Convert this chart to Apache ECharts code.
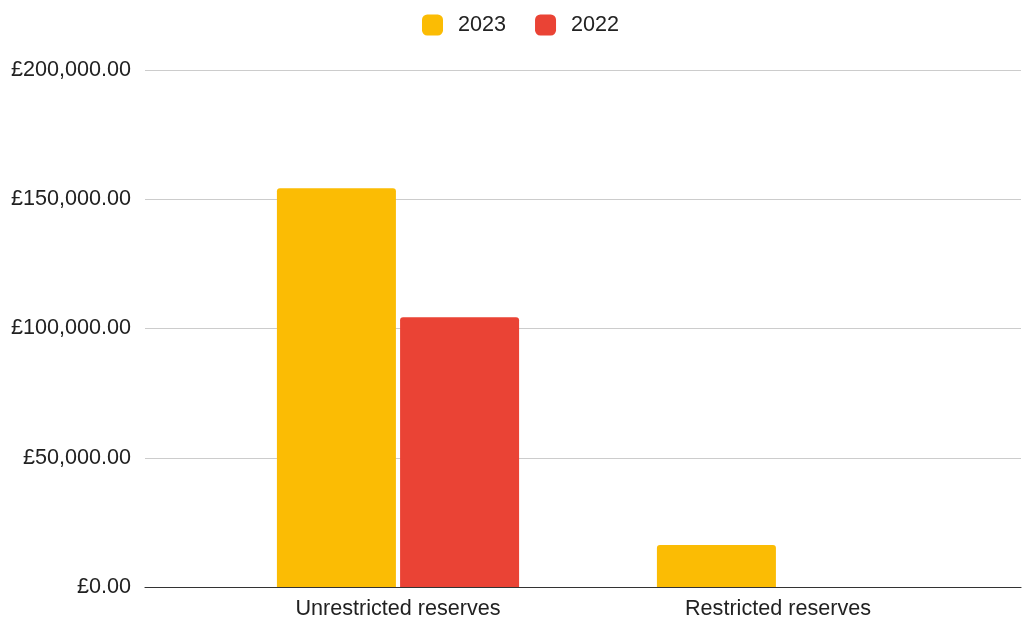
<!DOCTYPE html>
<html>
<head>
<meta charset="utf-8">
<script src="https://cdn.jsdelivr.net/npm/echarts@6/dist/echarts.min.js"></script>
<style>html,body{margin:0;padding:0;background:#fff}#c{width:1023px;height:622px}</style>
</head>
<body>
<div id="c"></div>
<script>
const categories = ['Unrestricted reserves', 'Restricted reserves'];
const seriesNames = ['2023', '2022'];
const values2023 = [154250, 16200];
const values2022 = [104400, 0];
const yTicks = [0, 50000, 100000, 150000, 200000];

function fmt(v) {
  const s = Math.round(v).toString().replace(/\B(?=(\d{3})+(?!\d))/g, ',');
  return '£' + s + '.00';
}

const FONT = 'Liberation Sans, Arial, sans-serif';
const FS = 21.6;
const chart = echarts.init(document.getElementById('c'), null, {renderer: 'canvas'});
chart.setOption({
  animation: false,
  backgroundColor: '#fff',
  textStyle: {fontFamily: FONT},
  legend: {
    top: 9, left: 417,
    itemWidth: 21, itemHeight: 21, itemGap: 29,
    icon: 'roundRect',
    textStyle: {fontSize: FS, color: '#222', fontFamily: FONT, padding: [0, 0, 0, 10]},
    data: seriesNames
  },
  grid: [
    {left: 145, right: 2, top: 70, bottom: 35},
    {left: 208, right: 55, top: 70, bottom: 35}
  ],
  xAxis: [
    {type: 'value', gridIndex: 0, min: 0, max: 1, axisLabel: {show: false}, axisTick: {show: false},
     splitLine: {show: false}, axisLine: {show: true, onZero: false, lineStyle: {color: '#333', width: 1.2}}},
    {type: 'category', gridIndex: 1, data: categories, axisLine: {show: false}, axisTick: {show: false},
     axisLabel: {fontSize: FS, color: '#222', margin: 11, fontFamily: FONT}}
  ],
  yAxis: [
    {type: 'value', gridIndex: 0, min: yTicks[0], max: yTicks[yTicks.length - 1], interval: 50000,
     axisLine: {show: false}, axisTick: {show: false},
     axisLabel: {fontSize: FS, color: '#222', margin: 14, formatter: fmt, fontFamily: FONT},
     splitLine: {lineStyle: {color: '#cccccc', width: 1}}},
    {type: 'value', gridIndex: 1, min: yTicks[0], max: yTicks[yTicks.length - 1], interval: 50000,
     show: false, splitLine: {show: false}}
  ],
  series: [
    {name: seriesNames[0], type: 'bar', xAxisIndex: 1, yAxisIndex: 1, data: values2023,
     barWidth: 119, barGap: '3.5%', itemStyle: {color: '#FBBC04', borderRadius: [3, 3, 0, 0]}},
    {name: seriesNames[1], type: 'bar', xAxisIndex: 1, yAxisIndex: 1, data: values2022,
     barWidth: 119, barGap: '3.5%', itemStyle: {color: '#EA4335', borderRadius: [3, 3, 0, 0]}}
  ]
});
</script>
</body>
</html>
